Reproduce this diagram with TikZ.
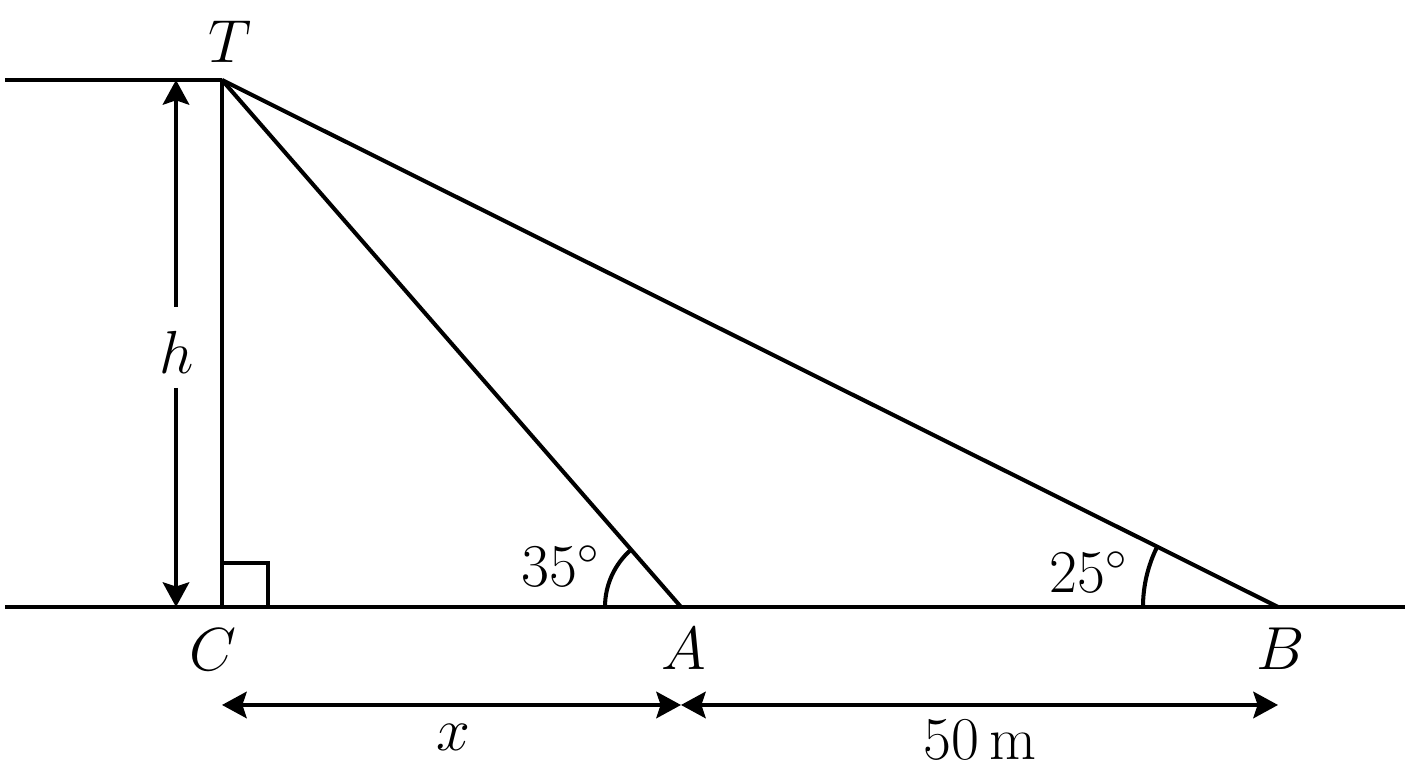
\documentclass[tikz,border=0pt]{standalone}
\usetikzlibrary{arrows.meta,calc}
\begin{document}
\begin{tikzpicture}[x=0.01cm,y=-0.01cm,
  ln/.style={line width=1.15pt},
  dim/.style={line width=1.15pt,{Stealth[length=7pt,width=7.5pt,inset=1.2pt]}-{Stealth[length=7pt,width=7.5pt,inset=1.2pt]}},
  lab/.style={inner sep=0pt,font=\fontsize{18.5}{22}\selectfont}]
\useasboundingbox (0,0) rectangle (1408,768);
% points
\coordinate (T) at (222,80);
\coordinate (C) at (222,607);
\coordinate (A) at (681,607);
\coordinate (B) at (1278,607);
\coordinate (GL) at (5,607);
\coordinate (GR) at (1405,607);
\coordinate (TL) at (5,80);
% lines
\draw[ln] (GL) -- (GR);
\draw[ln] (TL) -- (T);
\draw[ln] (T) -- (C);
\draw[ln] (T) -- (A);
\draw[ln] (T) -- (B);
% right angle
\draw[ln] (222,563) -- (268,563) -- (268,607);
% angle arcs
\draw[ln] ($(A)+(-76,0)$) arc[start angle=180,end angle={180-atan(527/459)},radius=0.76cm];
\draw[ln] ($(B)+(-135,0)$) arc[start angle=180,end angle={180-atan(527/1056)},radius=1.35cm];
% labels
\node[lab] (lT) at (230,42) {$T$};
\node[lab] (lC) at (213,650) {$C$};
\node[lab] (lA) at (684,649) {$A$};
\node[lab] (lB) at (1281,649) {$B$};
\node[lab] (l35) at (561,566) {$35^\circ$};
\node[lab] (l25) at (1089,572) {$25^\circ$};
\node[lab] (lh) at (177,352) {$h$};
\node[lab] (lx) at (453,737) {$x$};
\node[lab] (l50) at (980,740) {$50\,\mathrm{m}$};
% h dimension
\coordinate (hT) at (176,80);
\coordinate (hB) at (176,607);
\draw[line width=1.15pt,-{Stealth[length=7pt,width=7.5pt,inset=1.2pt]}] (176,307) -- (hT);
\draw[line width=1.15pt,-{Stealth[length=7pt,width=7.5pt,inset=1.2pt]}] (176,388) -- (hB);
% bottom dimensions
\coordinate (dC) at (222,705);
\coordinate (dA) at (681,705);
\coordinate (dB) at (1278,705);
\draw[dim] (dC) -- (dA);
\draw[dim] (dA) -- (dB);
\end{tikzpicture}
\end{document}
